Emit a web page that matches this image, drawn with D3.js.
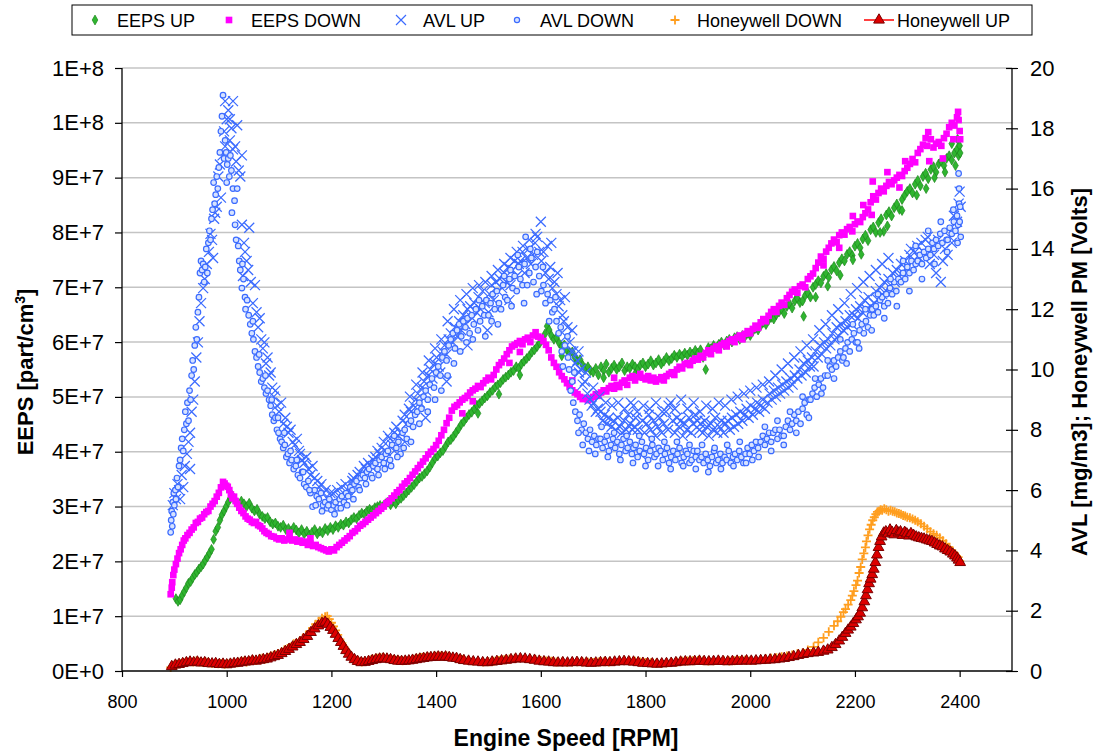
<!DOCTYPE html>
<html><head><meta charset="utf-8">
<script src="https://cdn.jsdelivr.net/npm/d3@7"></script>
<style>body{margin:0;background:#fff}svg{display:block}text{font-family:"Liberation Sans",Arial,sans-serif;fill:#000}</style>
</head><body><svg id="c" width="1097" height="753"></svg>
<script>
// ---------- ticks ----------
const xTicks=[800,1000,1200,1400,1600,1800,2000,2200,2400];
const leftTickVals=[0,1e7,2e7,3e7,4e7,5e7,6e7,7e7,8e7,9e7,1e8,1.1e8];
const leftTickLabels=["0E+0","1E+7","2E+7","3E+7","4E+7","5E+7","6E+7","7E+7","8E+7","9E+7","1E+8","1E+8"];
const rightTicks=[0,2,4,6,8,10,12,14,16,18,20];
const seriesNames=["EEPS UP","EEPS DOWN","AVL UP","AVL DOWN","Honeywell DOWN","Honeywell UP"];

// ---------- data: [rpm, value]; EEPS in units of 1E+7 part/cm3 ----------
const eepsUpE7=[[903,1.32],[907,1.27],[911,1.30],[915,1.38],[919,1.45],[923,1.52],[927,1.60],[931,1.63],[935,1.70],[939,1.76],[943,1.80],[947,1.86],[951,1.90],[955,1.95],[959,2.02],[963,2.08],[967,2.15],[971,2.22],[975,2.40],[979,2.55],[983,2.62],[987,2.75],[991,2.85],[995,2.92],[999,3.00],[1003,3.08],[1007,3.15],[1011,3.20],[1015,3.12],[1019,3.08],[1023,3.03],[1028,3.10],[1033,3.05],[1038,3.00],[1043,3.06],[1048,2.97],[1053,2.92],[1058,2.95],[1063,2.86],[1068,2.82],[1073,2.78],[1078,2.80],[1083,2.72],[1088,2.68],[1093,2.70],[1098,2.64],[1103,2.62],[1108,2.66],[1113,2.58],[1118,2.60],[1123,2.55],[1128,2.62],[1133,2.57],[1138,2.52],[1143,2.58],[1148,2.50],[1153,2.55],[1158,2.48],[1163,2.53],[1168,2.58],[1173,2.50],[1178,2.55],[1183,2.52],[1188,2.60],[1193,2.56],[1198,2.62],[1203,2.58],[1208,2.65],[1213,2.62],[1218,2.68],[1223,2.66],[1228,2.72],[1233,2.70],[1238,2.76],[1243,2.80],[1248,2.78],[1253,2.84],[1258,2.88],[1263,2.86],[1268,2.92],[1273,2.95],[1278,2.93],[1283,2.98],[1288,3.00],[1293,3.02],[1298,3.00],[1303,3.05],[1308,3.08],[1313,3.03],[1318,3.10],[1323,3.05],[1328,3.12],[1333,3.15],[1338,3.20],[1343,3.25],[1348,3.30],[1353,3.35],[1358,3.40],[1363,3.46],[1368,3.52],[1373,3.55],[1378,3.60],[1383,3.65],[1388,3.72],[1393,3.80],[1398,3.88],[1403,3.92],[1408,3.98],[1413,4.02],[1418,4.10],[1423,4.18],[1428,4.22],[1433,4.28],[1438,4.35],[1443,4.42],[1448,4.50],[1453,4.55],[1458,4.62],[1463,4.68],[1468,4.72],[1473,4.78],[1478,4.85],[1483,4.88],[1488,4.93],[1493,4.98],[1498,5.02],[1503,5.08],[1508,5.12],[1513,5.18],[1518,5.22],[1523,5.26],[1528,5.32],[1533,5.36],[1538,5.40],[1543,5.45],[1548,5.48],[1553,5.55],[1558,5.52],[1563,5.60],[1568,5.65],[1573,5.70],[1578,5.75],[1583,5.82],[1588,5.86],[1593,5.92],[1598,5.98],[1603,6.05],[1608,6.15],[1612,6.29],[1616,6.22],[1620,6.12],[1625,6.05],[1630,6.08],[1635,5.98],[1640,5.92],[1645,5.95],[1650,5.85],[1655,5.80],[1660,5.82],[1665,5.72],[1670,5.65],[1675,5.68],[1680,5.58],[1685,5.52],[1690,5.55],[1695,5.48],[1700,5.45],[1705,5.52],[1710,5.40],[1715,5.55],[1720,5.48],[1725,5.60],[1730,5.45],[1735,5.52],[1740,5.58],[1745,5.50],[1750,5.55],[1755,5.62],[1760,5.48],[1765,5.55],[1770,5.52],[1775,5.60],[1780,5.55],[1785,5.50],[1790,5.58],[1795,5.62],[1800,5.55],[1805,5.60],[1810,5.66],[1815,5.58],[1820,5.62],[1825,5.68],[1830,5.60],[1835,5.65],[1840,5.72],[1845,5.66],[1850,5.70],[1855,5.76],[1860,5.72],[1865,5.78],[1870,5.74],[1875,5.80],[1880,5.76],[1885,5.82],[1890,5.78],[1895,5.85],[1900,5.80],[1905,5.86],[1910,5.72],[1915,5.50],[1920,5.90],[1925,5.88],[1930,5.94],[1935,5.90],[1940,5.96],[1945,6.00],[1950,5.95],[1955,6.02],[1960,6.05],[1965,6.00],[1970,6.08],[1975,6.10],[1980,6.05],[1985,6.12],[1990,6.10],[1995,6.16],[2000,6.12],[2005,6.20],[2010,6.25],[2015,6.22],[2020,6.30],[2025,6.36],[2030,6.32],[2035,6.40],[2040,6.45],[2045,6.42],[2050,6.50],[2055,6.55],[2060,6.60],[2065,6.52],[2070,6.65],[2075,6.70],[2080,6.62],[2085,6.75],[2090,6.80],[2095,6.72],[2100,6.75],[2102,6.47],[2105,6.85],[2110,6.90],[2115,6.82],[2120,7.00],[2125,7.05],[2130,7.12],[2135,7.08],[2140,7.20],[2145,7.25],[2150,7.18],[2155,7.32],[2160,7.38],[2165,7.30],[2170,7.45],[2175,7.52],[2180,7.48],[2185,7.60],[2190,7.65],[2195,7.58],[2200,7.75],[2205,7.80],[2210,7.72],[2215,7.88],[2220,7.95],[2225,7.85],[2230,8.05],[2235,8.10],[2240,8.00],[2245,8.18],[2250,8.25],[2255,8.02],[2260,8.32],[2265,8.38],[2270,8.30],[2275,8.45],[2280,8.52],[2285,8.42],[2290,8.60],[2295,8.68],[2300,8.75],[2305,8.80],[2310,8.72],[2315,8.88],[2320,8.95],[2325,8.85],[2330,9.02],[2335,9.08],[2340,8.98],[2345,9.15],[2350,9.20],[2355,9.10],[2360,9.25],[2365,9.30],[2370,9.22],[2375,9.35],[2380,9.40],[2385,9.32],[2390,9.45],[2395,9.52],[2398,9.40],[2400,9.58],[2401,9.45],
[2125,6.82],[2148,7.02],[2172,7.22],[2196,7.50],[2212,7.60],[2248,8.00],[2262,8.12],[2290,8.40],[2318,8.68],[2336,8.80],[2352,9.00],[2372,9.10],[2392,9.22],[2396,9.70],[2385,9.62],[1480,4.70],[1520,5.05],[1560,5.40],[1640,5.75],[1720,5.35],[1780,5.42]];

const eepsDownE7=[[893,1.40],[895,1.52],[896,1.62],[898,1.75],[900,1.85],[903,1.95],[906,2.05],[909,2.15],[912,2.22],[915,2.30],[918,2.38],[921,2.42],[925,2.48],[929,2.52],[933,2.58],[937,2.62],[941,2.70],[945,2.72],[949,2.78],[953,2.80],[957,2.86],[961,2.90],[965,2.92],[969,3.00],[973,3.05],[977,3.10],[981,3.18],[985,3.25],[989,3.35],[993,3.45],[996,3.42],[999,3.38],[1002,3.36],[1005,3.30],[1008,3.22],[1011,3.15],[1014,3.18],[1017,3.10],[1020,3.05],[1024,2.98],[1028,2.92],[1032,2.88],[1036,2.82],[1040,2.78],[1044,2.76],[1048,2.72],[1052,2.70],[1056,2.72],[1060,2.66],[1064,2.64],[1068,2.60],[1072,2.55],[1076,2.52],[1080,2.50],[1085,2.46],[1090,2.45],[1095,2.42],[1100,2.40],[1105,2.42],[1110,2.38],[1115,2.40],[1120,2.43],[1125,2.38],[1130,2.40],[1135,2.36],[1140,2.38],[1145,2.34],[1150,2.36],[1155,2.30],[1160,2.32],[1165,2.28],[1170,2.30],[1175,2.26],[1180,2.24],[1185,2.22],[1190,2.20],[1195,2.18],[1200,2.22],[1205,2.20],[1210,2.26],[1215,2.30],[1220,2.34],[1225,2.38],[1230,2.42],[1235,2.46],[1240,2.52],[1245,2.55],[1250,2.60],[1255,2.65],[1260,2.68],[1265,2.72],[1270,2.76],[1275,2.80],[1280,2.84],[1285,2.88],[1290,2.92],[1295,2.96],[1300,3.00],[1305,3.06],[1310,3.10],[1315,3.15],[1320,3.20],[1325,3.26],[1330,3.30],[1335,3.36],[1340,3.42],[1345,3.46],[1350,3.52],[1355,3.58],[1360,3.64],[1365,3.70],[1370,3.76],[1375,3.82],[1380,3.88],[1385,3.95],[1390,4.00],[1395,4.05],[1400,4.12],[1405,4.20],[1410,4.30],[1415,4.40],[1420,4.52],[1425,4.62],[1430,4.75],[1435,4.82],[1440,4.85],[1445,4.90],[1450,4.95],[1455,4.98],[1460,5.02],[1465,5.08],[1470,5.12],[1475,5.15],[1480,5.20],[1485,5.18],[1490,5.25],[1495,5.30],[1500,5.35],[1505,5.32],[1510,5.40],[1515,5.50],[1520,5.58],[1525,5.63],[1530,5.70],[1535,5.78],[1540,5.85],[1545,5.92],[1550,5.95],[1555,5.98],[1560,6.02],[1565,5.96],[1570,6.05],[1575,6.08],[1580,6.00],[1585,6.12],[1590,6.18],[1595,6.10],[1600,6.08],[1605,6.02],[1610,5.95],[1615,5.85],[1620,5.72],[1625,5.62],[1630,5.55],[1635,5.45],[1640,5.38],[1645,5.32],[1650,5.25],[1655,5.18],[1660,5.12],[1665,5.08],[1670,5.05],[1675,5.00],[1680,4.96],[1685,4.98],[1690,4.94],[1695,4.96],[1700,5.00],[1705,5.05],[1710,5.02],[1715,5.08],[1720,5.12],[1725,5.10],[1730,5.16],[1735,5.20],[1740,5.15],[1745,5.22],[1750,5.18],[1755,5.26],[1760,5.30],[1765,5.22],[1770,5.35],[1775,5.38],[1780,5.30],[1785,5.36],[1790,5.42],[1795,5.35],[1800,5.32],[1805,5.38],[1810,5.30],[1815,5.35],[1820,5.28],[1825,5.32],[1830,5.36],[1835,5.30],[1840,5.38],[1845,5.42],[1850,5.45],[1855,5.40],[1860,5.50],[1865,5.55],[1870,5.52],[1875,5.60],[1880,5.62],[1885,5.58],[1890,5.66],[1895,5.70],[1900,5.68],[1905,5.75],[1910,5.72],[1915,5.80],[1920,5.85],[1925,5.78],[1930,5.88],[1935,5.92],[1940,5.85],[1945,5.95],[1950,5.98],[1955,5.92],[1960,6.02],[1965,6.05],[1970,6.00],[1975,6.08],[1980,6.12],[1985,6.05],[1990,6.15],[1995,6.20],[2000,6.16],[2005,6.24],[2010,6.30],[2015,6.26],[2020,6.36],[2025,6.42],[2030,6.38],[2035,6.48],[2040,6.55],[2045,6.60],[2050,6.55],[2055,6.66],[2060,6.72],[2065,6.68],[2070,6.80],[2075,6.86],[2080,6.92],[2085,6.96],[2090,6.90],[2095,7.02],[2100,7.05],[2105,7.00],[2110,7.15],[2115,7.20],[2120,7.25],[2125,7.35],[2130,7.45],[2135,7.56],[2140,7.52],[2145,7.65],[2150,7.72],[2155,7.80],[2160,7.87],[2165,7.82],[2170,7.95],[2175,8.00],[2180,7.96],[2185,8.06],[2190,8.10],[2195,8.02],[2200,8.15],[2205,8.20],[2210,8.19],[2215,8.28],[2220,8.35],[2225,8.42],[2230,8.55],[2234,8.93],[2235,8.66],[2240,8.60],[2245,8.72],[2250,8.80],[2255,8.75],[2260,8.85],[2265,8.92],[2270,8.88],[2275,8.95],[2280,9.00],[2285,9.05],[2290,9.03],[2295,9.12],[2300,9.18],[2305,9.25],[2310,9.34],[2315,9.28],[2320,9.45],[2325,9.52],[2330,9.60],[2335,9.72],[2340,9.83],[2345,9.70],[2350,9.55],[2355,9.62],[2360,9.65],[2365,9.58],[2370,9.72],[2375,9.80],[2380,9.92],[2385,10.0],[2390,9.95],[2395,10.1],[2398,10.05],[2400,9.85],[2401,9.70],
[2140,7.40],[2170,7.72],[2196,8.30],[2216,8.50],[2232,8.32],[2262,9.10],[2285,8.82],[2296,9.30],[2338,9.58],[2342,9.30],[2368,9.35],[2388,9.70],[2397,10.2],[1450,4.70],[1470,4.92],[1540,5.62],[1560,5.82],[1660,5.30],[1740,5.35],[1120,2.52],[1160,2.42]];

// AVL in mg/m3 (right axis)
const avlUp=[[897,5.5],[900,5.9],[903,5.7],[906,6.2],[909,6.0],[911,5.7],[914,6.5],[917,6.1],[920,6.8],[924,7.2],[927,7.6],[930,6.7],[930,7.9],[933,8.6],[936,9.0],[939,9.6],[942,10.4],[945,10.9],[948,11.6],[951,12.2],[955,12.7],[958,13.0],[962,13.5],[966,13.9],[969,14.5],[972,14.3],[974,13.7],[976,15.0],[978,15.2],[981,15.4],[984,16.4],[987,16.8],[989,15.7],[992,17.1],[995,17.9],[997,17.4],[997,18.9],[1000,18.3],[1003,18.6],[1006,17.6],[1006,18.3],[1009,18.0],[1012,18.9],[1012,17.3],[1016,17.4],[1018,16.9],[1020,18.1],[1023,16.6],[1026,16.4],[1029,17.1],[1029,14.8],[1031,13.1],[1033,14.2],[1035,13.9],[1038,13.6],[1041,13.3],[1043,14.7],[1046,12.9],[1050,12.2],[1054,12.8],[1057,11.9],[1060,11.4],[1063,11.7],[1066,11.0],[1069,10.7],[1072,10.9],[1075,10.2],[1078,10.4],[1081,9.8],[1084,9.9],[1087,9.4],[1090,9.1],[1093,9.3],[1096,8.8],[1100,8.6],[1104,8.9],[1108,8.2],[1112,8.4],[1115,8.1],[1118,7.9],[1122,8.0],[1126,7.6],[1130,7.5],[1134,7.7],[1138,7.3],[1140,7.2],[1144,7.0],[1148,6.9],[1152,7.1],[1156,6.7],[1160,6.5],[1164,6.8],[1168,6.4],[1173,6.3],[1177,6.1],[1181,6.2],[1185,5.9],[1189,6.0],[1193,5.7],[1198,5.9],[1203,5.9],[1207,5.6],[1211,6.0],[1215,5.8],[1219,6.1],[1223,5.9],[1227,6.2],[1231,6.0],[1236,5.8],[1240,6.3],[1242,6.4],[1246,6.2],[1250,6.5],[1254,6.6],[1258,6.4],[1262,6.8],[1266,6.7],[1270,6.9],[1275,6.8],[1280,7.0],[1284,7.1],[1288,7.3],[1292,7.2],[1296,7.4],[1300,7.6],[1304,7.3],[1308,7.8],[1312,7.7],[1316,7.5],[1320,7.9],[1324,8.1],[1328,7.8],[1332,7.9],[1336,8.3],[1340,8.5],[1344,8.2],[1348,8.7],[1352,8.6],[1357,8.8],[1361,9.0],[1365,9.2],[1369,8.9],[1373,9.4],[1377,9.6],[1381,9.3],[1385,9.8],[1389,10.0],[1393,9.7],[1397,10.2],[1401,10.4],[1405,10.1],[1408,9.9],[1412,10.6],[1416,10.8],[1420,10.5],[1424,11.0],[1428,11.2],[1432,10.9],[1436,11.4],[1440,11.1],[1444,11.6],[1448,11.3],[1452,11.8],[1456,11.5],[1460,12.0],[1465,12.1],[1469,11.7],[1473,12.2],[1477,11.9],[1481,12.4],[1485,12.0],[1489,12.6],[1493,12.2],[1498,11.3],[1502,12.5],[1506,12.8],[1510,12.3],[1514,12.9],[1518,12.6],[1522,13.0],[1526,12.7],[1530,13.2],[1534,12.9],[1538,13.4],[1542,12.8],[1546,13.3],[1550,13.6],[1554,13.1],[1558,13.5],[1561,13.6],[1565,13.9],[1569,13.2],[1573,13.7],[1577,14.0],[1581,13.5],[1585,13.8],[1589,14.2],[1593,14.4],[1597,13.9],[1601,13.6],[1605,13.9],[1609,13.2],[1612,14.1],[1615,13.0],[1618,13.4],[1622,12.7],[1626,12.9],[1630,12.5],[1634,12.1],[1637,12.3],[1641,11.8],[1644,11.6],[1648,11.1],[1651,11.4],[1655,10.9],[1658,10.6],[1662,10.6],[1666,10.2],[1670,10.3],[1673,9.9],[1676,10.0],[1680,9.5],[1684,9.6],[1689,9.2],[1693,9.0],[1697,8.8],[1701,8.9],[1705,8.6],[1709,8.7],[1714,8.6],[1718,8.3],[1722,8.5],[1726,8.2],[1730,8.4],[1735,8.1],[1739,8.3],[1743,8.0],[1747,8.4],[1751,8.1],[1755,7.9],[1759,8.3],[1763,8.0],[1767,8.5],[1771,8.2],[1775,8.0],[1777,8.8],[1779,8.1],[1781,8.4],[1785,8.0],[1790,7.2],[1794,8.3],[1798,7.9],[1802,8.2],[1806,8.5],[1810,8.0],[1815,8.3],[1819,7.8],[1823,8.1],[1827,8.4],[1831,7.9],[1835,8.2],[1839,8.6],[1843,8.0],[1848,8.9],[1852,8.3],[1856,7.9],[1860,8.4],[1864,8.1],[1867,8.3],[1871,7.8],[1875,8.2],[1879,8.0],[1883,8.4],[1887,7.9],[1891,8.2],[1895,8.5],[1899,8.3],[1903,8.0],[1905,8.2],[1909,7.9],[1913,8.3],[1917,8.1],[1921,7.8],[1925,8.2],[1929,8.0],[1933,8.4],[1937,7.9],[1941,8.1],[1945,8.3],[1949,7.9],[1953,8.2],[1957,8.3],[1961,8.0],[1965,8.4],[1969,8.1],[1973,8.5],[1977,8.2],[1981,8.6],[1985,8.3],[1989,8.5],[1993,8.7],[1997,8.4],[2001,8.8],[2005,8.5],[2009,8.7],[2013,8.9],[2017,8.6],[2020,8.8],[2024,9.0],[2028,8.7],[2033,8.9],[2037,9.2],[2041,9.0],[2045,9.3],[2049,9.1],[2053,9.4],[2057,9.2],[2061,9.5],[2065,9.3],[2069,9.6],[2073,9.4],[2077,9.7],[2081,9.5],[2085,9.8],[2090,9.7],[2094,10.0],[2098,9.8],[2102,10.2],[2106,9.9],[2110,10.3],[2114,10.1],[2118,10.4],[2121,10.1],[2125,10.6],[2129,10.4],[2133,10.8],[2137,10.5],[2141,10.9],[2145,10.7],[2149,11.0],[2153,10.8],[2157,11.2],[2161,11.0],[2165,11.4],[2169,11.1],[2173,11.5],[2178,11.3],[2182,11.6],[2186,11.4],[2190,11.8],[2194,11.5],[2198,11.8],[2202,12.0],[2206,11.7],[2210,12.1],[2214,11.9],[2218,12.3],[2222,12.0],[2226,12.4],[2230,12.1],[2236,12.2],[2240,12.6],[2244,12.3],[2248,12.7],[2252,12.5],[2256,12.9],[2260,12.6],[2264,13.0],[2268,12.8],[2272,13.2],[2276,12.9],[2280,13.3],[2284,13.1],[2288,13.5],[2292,13.2],[2296,13.6],[2300,13.4],[2304,13.8],[2307,14.0],[2311,13.6],[2315,13.9],[2319,14.1],[2323,13.7],[2327,14.2],[2331,13.9],[2335,14.3],[2339,14.4],[2343,13.5],[2347,14.1],[2351,13.8],[2355,13.2],[2359,14.3],[2364,12.9],[2368,13.6],[2372,14.0],[2377,13.8],[2381,14.4],[2385,14.2],[2389,15.1],[2392,14.6],[2395,14.9],[2398,15.5],[2400,15.9],[2402,15.4],
[1350,9.1],[1362,9.5],[1374,9.9],[1386,10.3],[1398,10.7],[1410,11.0],[1422,11.6],[1434,12.0],[1446,12.3],[1458,12.5],[1470,12.7],[1482,12.8],[1494,12.9],[1506,13.1],[1518,13.3],[1530,13.5],[1542,13.7],[1554,13.9],[1566,14.1],[1578,14.3],[1590,14.5],[1600,14.9],[1620,14.2],[1632,13.2],[1646,12.4],[1660,11.3],[1672,10.6],[1686,9.9],[1700,9.4],[1712,9.1],[1724,8.9],[1736,8.8],[1748,8.9],[1760,8.7],[1772,8.9],[1784,8.6],[1796,8.8],[1808,8.7],[1820,8.9],[1832,8.6],[1844,8.8],[1856,8.7],[1868,9.0],[1880,8.7],[1892,8.9],[1904,8.6],[1916,8.8],[1928,8.7],[1940,8.9],[1952,8.8],[1964,9.0],[1976,9.1],[1988,9.2],[2000,9.3],[2012,9.4],[2024,9.5],[2036,9.6],[2048,9.8],[2060,10.0],[2072,10.2],[2084,10.4],[2096,10.6],[2108,10.8],[2120,11.0],[2132,11.3],[2144,11.5],[2156,11.8],[2168,12.0],[2180,12.2],[2192,12.5],[2204,12.7],[2216,12.9],[2228,13.1],[2240,13.3],[2252,13.5],[2264,13.7],[1300,6.9],[1320,7.3],[1340,7.6],[1380,8.4],[1420,9.6],[1460,10.8],[1500,11.9],[1540,12.3]];

const avlDown=[[893,4.6],[894,5.0],[895,5.3],[896,4.8],[897,5.6],[898,5.2],[899,5.9],[900,5.5],[902,6.0],[903,5.7],[905,6.4],[907,6.1],[909,6.8],[911,7.0],[913,7.4],[915,7.7],[917,7.3],[919,8.0],[921,8.6],[923,8.2],[925,8.9],[927,8.3],[929,9.3],[931,9.0],[933,9.8],[935,10.3],[937,10.0],[939,10.8],[941,11.4],[943,11.0],[945,11.9],[947,12.4],[949,13.2],[951,13.6],[953,13.3],[955,13.5],[957,12.9],[959,13.4],[961,14.0],[963,13.2],[965,14.2],[967,14.6],[969,14.3],[971,15.0],[973,15.3],[975,16.2],[977,15.5],[979,15.8],[981,16.4],[983,16.0],[985,16.7],[987,17.2],[989,17.9],[991,18.4],[993,19.1],[995,17.0],[997,17.6],[999,17.2],[1001,16.8],[1003,17.0],[1005,16.4],[1007,17.1],[1009,16.6],[1012,16.0],[1015,15.6],[1018,14.3],[1020,16.0],[1022,14.1],[1024,13.6],[1026,13.3],[1029,12.7],[1032,13.0],[1035,12.4],[1039,12.3],[1042,11.8],[1045,11.5],[1048,11.2],[1051,11.0],[1054,10.6],[1057,10.4],[1060,10.1],[1063,9.9],[1066,9.6],[1069,9.7],[1072,9.4],[1075,9.2],[1078,9.3],[1081,9.0],[1084,8.8],[1087,8.5],[1090,8.3],[1093,8.4],[1096,8.0],[1099,7.9],[1102,7.7],[1105,7.6],[1108,7.4],[1111,7.5],[1114,7.1],[1117,7.2],[1120,6.9],[1124,7.0],[1128,6.7],[1132,6.8],[1136,6.5],[1140,6.4],[1144,6.6],[1148,6.2],[1152,6.1],[1156,6.3],[1160,5.9],[1164,5.45],[1168,6.0],[1172,5.8],[1176,5.7],[1180,5.9],[1184,5.5],[1188,5.6],[1192,5.4],[1196,5.7],[1200,5.35],[1204,5.5],[1208,5.6],[1212,5.4],[1216,5.7],[1220,5.8],[1224,5.6],[1228,5.9],[1232,5.8],[1236,6.1],[1240,6.0],[1244,6.2],[1248,6.3],[1252,6.1],[1256,6.4],[1260,6.5],[1264,6.4],[1268,6.6],[1272,6.7],[1276,6.5],[1280,6.8],[1284,6.9],[1288,6.7],[1292,7.0],[1296,7.1],[1300,6.9],[1304,7.2],[1308,7.3],[1312,7.0],[1316,7.5],[1320,7.8],[1324,7.4],[1328,7.6],[1332,7.2],[1336,7.9],[1340,8.0],[1344,7.7],[1348,8.2],[1352,8.3],[1356,8.1],[1360,8.5],[1364,8.6],[1368,8.9],[1372,8.7],[1376,9.1],[1380,9.3],[1384,9.0],[1388,9.5],[1392,9.7],[1396,9.4],[1400,9.9],[1404,10.1],[1408,9.8],[1412,10.4],[1416,10.6],[1420,10.3],[1424,10.8],[1428,11.0],[1432,11.2],[1436,10.7],[1440,11.3],[1444,11.5],[1448,11.1],[1452,11.6],[1456,11.4],[1460,11.7],[1464,11.2],[1468,11.8],[1472,11.5],[1476,12.0],[1480,11.3],[1484,11.6],[1488,12.1],[1492,11.8],[1496,12.3],[1500,11.8],[1504,12.2],[1508,12.5],[1512,12.0],[1516,12.6],[1520,12.2],[1524,12.0],[1528,12.8],[1532,12.4],[1536,12.3],[1540,13.0],[1542,13.3],[1546,12.7],[1550,13.1],[1554,12.6],[1558,13.4],[1561,13.0],[1565,12.8],[1569,13.5],[1571,14.4],[1574,12.8],[1578,13.2],[1582,13.7],[1586,12.9],[1590,13.4],[1593,13.9],[1597,13.1],[1601,12.6],[1605,12.8],[1609,12.2],[1613,12.5],[1618,12.3],[1622,11.9],[1626,12.0],[1630,11.6],[1634,11.2],[1638,11.4],[1642,10.1],[1646,10.8],[1651,11.1],[1654,10.0],[1657,9.3],[1660,9.6],[1662,8.9],[1666,8.6],[1670,8.3],[1674,8.5],[1678,8.0],[1682,8.2],[1686,7.9],[1690,7.7],[1694,8.0],[1698,7.6],[1702,7.8],[1706,7.5],[1710,7.7],[1714,7.7],[1718,7.4],[1722,7.6],[1726,7.8],[1730,7.3],[1734,7.5],[1738,7.7],[1742,7.4],[1746,7.6],[1750,7.2],[1754,7.5],[1758,7.7],[1762,7.3],[1766,7.4],[1770,7.6],[1774,7.2],[1777,7.4],[1781,7.5],[1785,7.1],[1789,7.3],[1793,7.6],[1797,7.2],[1801,7.4],[1805,7.0],[1809,7.3],[1813,7.5],[1817,7.1],[1821,7.2],[1825,7.4],[1829,7.3],[1833,7.0],[1837,7.2],[1841,7.4],[1845,6.9],[1849,7.1],[1853,7.3],[1857,7.0],[1861,7.2],[1865,7.4],[1869,6.9],[1873,7.1],[1877,7.3],[1880,7.2],[1884,6.9],[1888,7.0],[1892,7.3],[1896,7.1],[1899,7.3],[1903,7.0],[1907,7.1],[1911,6.9],[1915,7.2],[1919,7.0],[1923,6.8],[1927,7.1],[1931,7.3],[1935,6.9],[1939,7.0],[1943,7.2],[1947,6.9],[1951,7.1],[1955,7.0],[1959,7.3],[1963,6.9],[1967,7.1],[1971,7.2],[1975,7.0],[1979,7.3],[1983,7.1],[1987,6.9],[1991,7.2],[1995,7.4],[1999,7.2],[2003,7.5],[2007,7.3],[2011,7.6],[2015,7.4],[2020,7.6],[2024,7.8],[2028,7.5],[2032,7.7],[2036,7.9],[2040,7.6],[2044,7.9],[2048,8.0],[2052,7.7],[2056,8.0],[2060,7.8],[2064,7.8],[2068,8.1],[2072,8.3],[2076,8.0],[2080,8.2],[2084,8.5],[2088,8.3],[2092,8.6],[2096,8.2],[2100,8.7],[2104,8.9],[2108,8.5],[2112,9.0],[2115,9.0],[2119,9.2],[2123,9.4],[2127,9.1],[2131,9.5],[2135,9.7],[2139,9.4],[2143,9.8],[2148,9.8],[2152,10.1],[2156,10.0],[2160,10.3],[2164,10.1],[2168,10.4],[2172,10.6],[2176,10.3],[2178,10.4],[2182,10.7],[2186,10.9],[2190,10.6],[2194,11.0],[2198,11.2],[2202,10.9],[2205,10.9],[2209,11.3],[2213,11.5],[2217,11.2],[2221,11.6],[2225,11.4],[2229,11.8],[2233,12.0],[2236,11.8],[2240,12.1],[2244,11.9],[2248,12.3],[2252,12.4],[2256,12.1],[2260,12.5],[2263,12.2],[2267,12.7],[2271,12.5],[2275,12.9],[2279,12.6],[2283,13.0],[2288,12.9],[2292,13.2],[2296,13.0],[2300,13.4],[2304,13.2],[2308,13.6],[2312,13.3],[2316,13.5],[2320,13.6],[2324,13.8],[2328,13.5],[2332,13.9],[2336,13.7],[2340,14.0],[2344,13.8],[2348,14.2],[2351,14.0],[2355,14.3],[2359,14.1],[2363,14.5],[2367,14.2],[2371,14.6],[2375,14.3],[2377,14.3],[2381,14.7],[2385,14.5],[2389,14.9],[2392,14.6],[2395,15.1],[2397,14.8],[2398,16.5],[2399,15.5],[2400,14.9],[2401,15.4],[2402,14.4],
[1352,7.6],[1368,8.2],[1384,8.6],[1398,9.0],[1410,9.3],[1422,9.8],[1434,10.2],[1446,10.6],[1458,10.9],[1470,11.0],[1482,12.3],[1494,11.1],[1506,11.6],[1518,11.5],[1530,13.1],[1544,12.1],[1556,13.8],[1568,12.2],[1580,14.0],[1592,12.5],[1604,13.4],[1616,11.6],[1628,12.4],[1640,10.6],[1652,10.4],[1664,9.9],[1672,7.9],[1680,7.5],[1692,7.3],[1704,7.2],[1716,8.1],[1728,7.1],[1740,7.9],[1752,7.0],[1764,7.8],[1776,6.9],[1788,7.8],[1800,6.8],[1812,7.7],[1824,6.8],[1836,7.6],[1848,6.7],[1860,7.6],[1872,6.8],[1884,7.5],[1896,6.7],[1908,7.5],[1920,6.6],[1932,7.4],[1944,6.7],[1956,7.5],[1968,6.8],[1980,7.6],[1992,6.9],[2004,7.0],[2016,7.1],[2028,8.1],[2040,7.3],[2052,8.3],[2064,7.5],[2076,8.6],[2088,7.9],[2100,9.1],[2112,8.4],[2124,9.7],[2136,9.2],[2148,10.3],[2160,9.7],[2172,11.0],[2184,10.2],[2196,11.5],[2208,10.7],[2220,12.0],[2232,11.3],[2244,12.5],[2256,11.7],[2268,13.0],[2280,12.1],[2292,13.6],[2304,12.6],[2316,14.1],[2328,13.0],[2340,14.6],[2352,13.5],[2364,14.9],[2376,13.9],[2388,15.3],[2396,14.2],[2399,16.0],[1000,16.2],[1010,15.2],[1016,14.8],[1030,13.5],[1036,12.0],[1050,11.6],[1062,10.5],[1074,9.8],[1086,9.0],[1098,8.4],[1110,7.9],[1122,7.3],[1134,7.0],[1146,6.6],[1158,6.0],[1170,5.5],[1182,5.3],[1194,5.5],[1206,5.2],[1218,5.4],[1230,5.5],[1242,5.7],[1254,6.0],[1266,6.2],[1278,6.4],[1290,6.5],[1302,6.7],[1314,6.8],[1326,7.1],[1338,7.4]];

// Honeywell PM in Volts (right axis)
const honeywellDown=[[893,0.12],[900,0.2],[906,0.22],[912,0.25],[918,0.28],[924,0.3],[930,0.32],[936,0.3],[942,0.33],[948,0.3],[954,0.28],[960,0.3],[966,0.27],[972,0.25],[978,0.26],[984,0.24],[990,0.25],[996,0.22],[1002,0.24],[1008,0.26],[1014,0.28],[1020,0.27],[1026,0.3],[1032,0.32],[1038,0.3],[1044,0.34],[1050,0.37],[1056,0.35],[1062,0.4],[1068,0.42],[1074,0.4],[1080,0.45],[1086,0.5],[1092,0.55],[1098,0.58],[1104,0.62],[1110,0.7],[1116,0.75],[1122,0.8],[1128,0.9],[1134,0.92],[1140,1.0],[1146,1.1],[1152,1.2],[1158,1.3],[1164,1.42],[1170,1.55],[1176,1.65],[1182,1.75],[1188,1.8],[1192,1.82],[1196,1.72],[1200,1.6],[1204,1.48],[1208,1.35],[1212,1.2],[1216,1.05],[1220,0.92],[1224,0.8],[1228,0.68],[1232,0.58],[1236,0.5],[1240,0.42],[1246,0.36],[1252,0.32],[1258,0.3],[1264,0.32],[1270,0.35],[1276,0.38],[1282,0.4],[1288,0.42],[1294,0.44],[1300,0.45],[1306,0.43],[1312,0.4],[1318,0.38],[1324,0.36],[1330,0.35],[1336,0.34],[1342,0.35],[1348,0.36],[1354,0.38],[1360,0.4],[1366,0.42],[1372,0.45],[1378,0.46],[1384,0.47],[1390,0.48],[1396,0.5],[1402,0.49],[1408,0.5],[1414,0.48],[1420,0.5],[1426,0.47],[1432,0.46],[1438,0.44],[1444,0.4],[1450,0.38],[1460,0.35],[1470,0.33],[1480,0.32],[1490,0.3],[1500,0.31],[1510,0.32],[1520,0.35],[1530,0.37],[1540,0.4],[1550,0.42],[1560,0.44],[1570,0.42],[1580,0.4],[1590,0.38],[1600,0.35],[1610,0.33],[1620,0.32],[1630,0.3],[1640,0.3],[1650,0.29],[1660,0.3],[1670,0.31],[1680,0.3],[1690,0.29],[1700,0.28],[1710,0.3],[1720,0.31],[1730,0.3],[1740,0.32],[1750,0.33],[1760,0.35],[1770,0.33],[1780,0.32],[1790,0.3],[1800,0.28],[1810,0.27],[1820,0.26],[1830,0.25],[1840,0.27],[1850,0.28],[1860,0.3],[1870,0.32],[1880,0.33],[1890,0.34],[1900,0.35],[1910,0.34],[1920,0.33],[1930,0.34],[1940,0.35],[1950,0.34],[1960,0.33],[1970,0.34],[1980,0.35],[1990,0.36],[2000,0.35],[2010,0.36],[2020,0.38],[2030,0.4],[2040,0.42],[2050,0.44],[2060,0.47],[2070,0.5],[2080,0.53],[2090,0.57],[2100,0.6],[2110,0.7],[2121,0.8],[2130,0.95],[2140,1.1],[2150,1.3],[2160,1.5],[2167,1.65],[2173,1.8],[2178,1.95],[2182,2.05],[2187,2.2],[2192,2.35],[2195,2.5],[2198,2.65],[2202,2.85],[2205,3.0],[2208,3.25],[2211,3.45],[2214,3.7],[2217,3.9],[2220,4.1],[2222,4.3],[2225,4.5],[2228,4.7],[2231,4.85],[2234,5.0],[2237,5.1],[2240,5.2],[2243,5.28],[2246,5.3],[2249,5.35],[2252,5.33],[2256,5.38],[2260,5.35],[2264,5.3],[2268,5.33],[2272,5.3],[2276,5.28],[2280,5.24],[2284,5.22],[2288,5.2],[2292,5.16],[2296,5.14],[2300,5.1],[2305,5.08],[2310,5.04],[2315,5.0],[2320,4.95],[2326,4.88],[2332,4.8],[2338,4.72],[2344,4.62],[2350,4.55],[2356,4.5],[2362,4.42],[2368,4.32],[2374,4.22],[2380,4.1],[2385,4.0],[2390,3.9],[2394,3.82],[2397,3.78],[2400,3.65]];

const honeywellUp=[[895,0.15],[902,0.2],[909,0.22],[916,0.25],[923,0.28],[930,0.3],[937,0.28],[944,0.3],[951,0.27],[958,0.28],[965,0.25],[972,0.24],[979,0.25],[986,0.22],[993,0.23],[1000,0.21],[1007,0.23],[1014,0.25],[1021,0.26],[1028,0.28],[1035,0.3],[1042,0.31],[1049,0.34],[1056,0.33],[1063,0.36],[1070,0.38],[1077,0.4],[1084,0.44],[1091,0.48],[1098,0.52],[1105,0.58],[1112,0.65],[1119,0.72],[1126,0.8],[1133,0.88],[1140,0.95],[1147,1.05],[1154,1.15],[1161,1.28],[1168,1.4],[1175,1.5],[1182,1.58],[1188,1.62],[1193,1.55],[1198,1.45],[1203,1.35],[1208,1.22],[1213,1.08],[1218,0.95],[1223,0.82],[1228,0.68],[1233,0.56],[1238,0.46],[1244,0.38],[1250,0.32],[1257,0.28],[1264,0.29],[1271,0.32],[1278,0.35],[1285,0.38],[1292,0.4],[1299,0.41],[1306,0.4],[1313,0.38],[1320,0.35],[1327,0.33],[1334,0.32],[1341,0.33],[1348,0.34],[1355,0.36],[1362,0.38],[1369,0.4],[1376,0.42],[1383,0.44],[1390,0.45],[1397,0.46],[1404,0.47],[1411,0.46],[1418,0.47],[1425,0.45],[1432,0.43],[1439,0.42],[1446,0.38],[1453,0.35],[1462,0.33],[1471,0.31],[1480,0.3],[1489,0.28],[1498,0.28],[1507,0.3],[1516,0.32],[1525,0.34],[1534,0.36],[1543,0.38],[1552,0.4],[1561,0.41],[1570,0.4],[1579,0.38],[1588,0.36],[1597,0.33],[1606,0.31],[1615,0.3],[1624,0.28],[1633,0.27],[1642,0.28],[1651,0.27],[1660,0.28],[1669,0.29],[1678,0.28],[1687,0.27],[1696,0.26],[1705,0.27],[1714,0.28],[1723,0.29],[1732,0.28],[1741,0.3],[1750,0.31],[1759,0.32],[1768,0.31],[1777,0.3],[1786,0.28],[1795,0.26],[1804,0.25],[1813,0.24],[1822,0.23],[1831,0.24],[1840,0.25],[1849,0.26],[1858,0.28],[1867,0.3],[1876,0.31],[1885,0.31],[1894,0.32],[1903,0.33],[1912,0.32],[1921,0.31],[1930,0.32],[1939,0.33],[1948,0.32],[1957,0.31],[1966,0.32],[1975,0.33],[1984,0.33],[1993,0.34],[2002,0.33],[2011,0.34],[2020,0.35],[2029,0.36],[2038,0.37],[2047,0.38],[2056,0.4],[2065,0.42],[2074,0.45],[2083,0.48],[2092,0.52],[2101,0.55],[2110,0.58],[2121,0.6],[2130,0.62],[2140,0.66],[2148,0.7],[2156,0.78],[2163,0.88],[2170,1.0],[2176,1.12],[2182,1.25],[2187,1.36],[2192,1.46],[2197,1.58],[2202,1.7],[2206,1.8],[2210,1.92],[2214,2.1],[2218,2.3],[2221,2.5],[2224,2.7],[2227,2.9],[2230,3.05],[2233,3.2],[2236,3.38],[2239,3.6],[2242,3.85],[2245,4.1],[2248,4.3],[2251,4.45],[2255,4.58],[2259,4.62],[2263,4.55],[2267,4.68],[2271,4.6],[2275,4.52],[2279,4.66],[2283,4.58],[2287,4.62],[2291,4.5],[2295,4.6],[2299,4.55],[2303,4.48],[2307,4.56],[2312,4.5],[2317,4.45],[2322,4.42],[2327,4.4],[2332,4.38],[2337,4.35],[2342,4.32],[2347,4.3],[2352,4.25],[2357,4.2],[2362,4.15],[2367,4.12],[2372,4.05],[2377,4.0],[2382,3.95],[2387,3.88],[2391,3.82],[2395,3.75],[2398,3.68],[2401,3.6]];

// ---------- chart ----------
const svg=d3.select("#c");
const P={l:122,r:1012,t:68,b:671};
const x=d3.scaleLinear().domain([800,2500]).range([P.l,P.r]);
const yL=d3.scaleLinear().domain([0,1.1e8]).range([P.b,P.t]);
const yR=d3.scaleLinear().domain([0,20]).range([P.b,P.t]);

// gridlines
svg.append("g").selectAll("line").data(leftTickVals.slice(1)).join("line")
  .attr("x1",P.l).attr("x2",P.r).attr("y1",d=>yL(d)).attr("y2",d=>yL(d))
  .attr("stroke","#c4c4c4").attr("stroke-width",1.5);

// styles
const C={
  eu:{fill:"#2fb52f",stroke:"#1c861c"},
  ed:{fill:"#ff00ff"},
  blue:"#3b6bff",
  orange:"#ff9e1f",
  redFill:"#dd0000",redStroke:"#7a0000"
};
const diamond=d3.symbol().type(d3.symbolDiamond).size(28)();
const square=d3.symbol().type(d3.symbolSquare).size(44)();
const tri=d3.symbol().type(d3.symbolTriangle).size(50)();
const xPath="M-5,-5L5,5M-5,5L5,-5";
const plusPath="M-4.5,0H4.5M0,-4.5V4.5";

function drawSym(data,yScale,mult,path,attrs){
  const g=svg.append("g");
  const s=g.selectAll("path").data(data).join("path")
    .attr("d",path)
    .attr("transform",d=>`translate(${x(d[0]).toFixed(2)},${yScale(d[1]*mult).toFixed(2)})`);
  for(const k in attrs) s.attr(k,attrs[k]);
  return g;
}

drawSym(eepsUpE7,yL,1e7,diamond,{fill:C.eu.fill,stroke:C.eu.stroke,"stroke-width":0.7});
drawSym(eepsDownE7,yL,1e7,square,{fill:C.ed.fill});
drawSym(avlUp,yR,1,xPath,{fill:"none",stroke:C.blue,"stroke-width":1.25});
svg.append("g").selectAll("circle").data(avlDown).join("circle")
  .attr("cx",d=>x(d[0])).attr("cy",d=>yR(d[1])).attr("r",2.8)
  .attr("fill","#d6e2ff").attr("stroke",C.blue).attr("stroke-width",1.2);
drawSym(honeywellDown,yR,1,plusPath,{fill:"none",stroke:C.orange,"stroke-width":1.8});
svg.append("path").datum(honeywellUp)
  .attr("d",d3.line().x(d=>x(d[0])).y(d=>yR(d[1])))
  .attr("fill","none").attr("stroke","#ff2020").attr("stroke-width",1.5);
drawSym(honeywellUp,yR,1,tri,{fill:C.redFill,stroke:C.redStroke,"stroke-width":1});

// axes
const axL=svg.append("g").attr("transform",`translate(${P.l},0)`)
  .call(d3.axisLeft(yL).tickValues(leftTickVals).tickFormat((d,i)=>leftTickLabels[i]).tickSize(7).tickPadding(11));
const axR=svg.append("g").attr("transform",`translate(${P.r},0)`)
  .call(d3.axisRight(yR).tickValues(rightTicks).tickFormat(d3.format("d")).tickSize(6).tickPadding(12));
axR.selectAll(".tick line").attr("x1",-6);
const axB=svg.append("g").attr("transform",`translate(0,${P.b})`)
  .call(d3.axisBottom(x).tickValues(xTicks).tickFormat(d3.format("d")).tickSize(6).tickPadding(18));
[axL,axR,axB].forEach(a=>{
  a.select(".domain").attr("stroke","#000").attr("stroke-width",1.3);
  a.selectAll(".tick line").attr("stroke","#000").attr("stroke-width",1.2);
  a.selectAll("text").attr("font-family","'Liberation Sans',Arial,sans-serif").attr("fill","#000");
});
axL.selectAll("text").attr("font-size",22);
axR.selectAll("text").attr("font-size",22);
axB.selectAll("text").attr("font-size",18);
axL.select(".domain").attr("d",`M0,${P.t}V${P.b}`);
axR.select(".domain").attr("d",`M0,${P.t}V${P.b}`);
axB.select(".domain").attr("d",`M${P.l},0H${P.r}`);

// axis titles
svg.append("text").attr("x",566).attr("y",746).attr("text-anchor","middle")
  .attr("font-size",23).attr("font-weight","bold").text("Engine Speed [RPM]");
const lt=svg.append("text").attr("transform","translate(33,372) rotate(-90)").attr("text-anchor","middle")
  .attr("font-size",22).attr("font-weight","bold");
lt.append("tspan").text("EEPS [part/cm");
lt.append("tspan").attr("dy",-8).attr("font-size",14).text("3");
lt.append("tspan").attr("dy",8).text("]");
svg.append("text").attr("transform","translate(1087,372) rotate(-90)").attr("text-anchor","middle")
  .attr("font-size",22).attr("font-weight","bold").text("AVL [mg/m3]; Honeywell PM [Volts]");

// legend
const lg=svg.append("g");
lg.append("rect").attr("x",72).attr("y",5).attr("width",960).attr("height",30)
  .attr("fill","#fff").attr("stroke","#000").attr("stroke-width",1);
const ly=20;
const legendItems=[
  {mx:95,tx:117},{mx:229,tx:251},{mx:401,tx:423},{mx:517,tx:540},{mx:675,tx:697},{mx:879,tx:897}
];
lg.append("path").attr("d",diamond).attr("transform",`translate(${legendItems[0].mx},${ly})`).attr("fill",C.eu.fill).attr("stroke",C.eu.stroke).attr("stroke-width",0.7);
lg.append("path").attr("d",square).attr("transform",`translate(${legendItems[1].mx},${ly})`).attr("fill",C.ed.fill);
lg.append("path").attr("d",xPath).attr("transform",`translate(${legendItems[2].mx},${ly})`).attr("fill","none").attr("stroke",C.blue).attr("stroke-width",1.2);
lg.append("circle").attr("cx",legendItems[3].mx).attr("cy",ly).attr("r",2.6).attr("fill","#d6e2ff").attr("stroke",C.blue).attr("stroke-width",1.2);
lg.append("path").attr("d",plusPath).attr("transform",`translate(${legendItems[4].mx},${ly})`).attr("fill","none").attr("stroke",C.orange).attr("stroke-width",1.8);
lg.append("line").attr("x1",864).attr("x2",894).attr("y1",ly).attr("y2",ly).attr("stroke","#ff4040").attr("stroke-width",2);
lg.append("path").attr("d",tri).attr("transform",`translate(${legendItems[5].mx},${ly})`).attr("fill",C.redFill).attr("stroke",C.redStroke).attr("stroke-width",1);
lg.selectAll("text.lt").data(seriesNames).join("text").attr("class","lt")
  .attr("x",(d,i)=>legendItems[i].tx).attr("y",ly+6.5).attr("font-size",18).text(d=>d);
</script></body></html>
